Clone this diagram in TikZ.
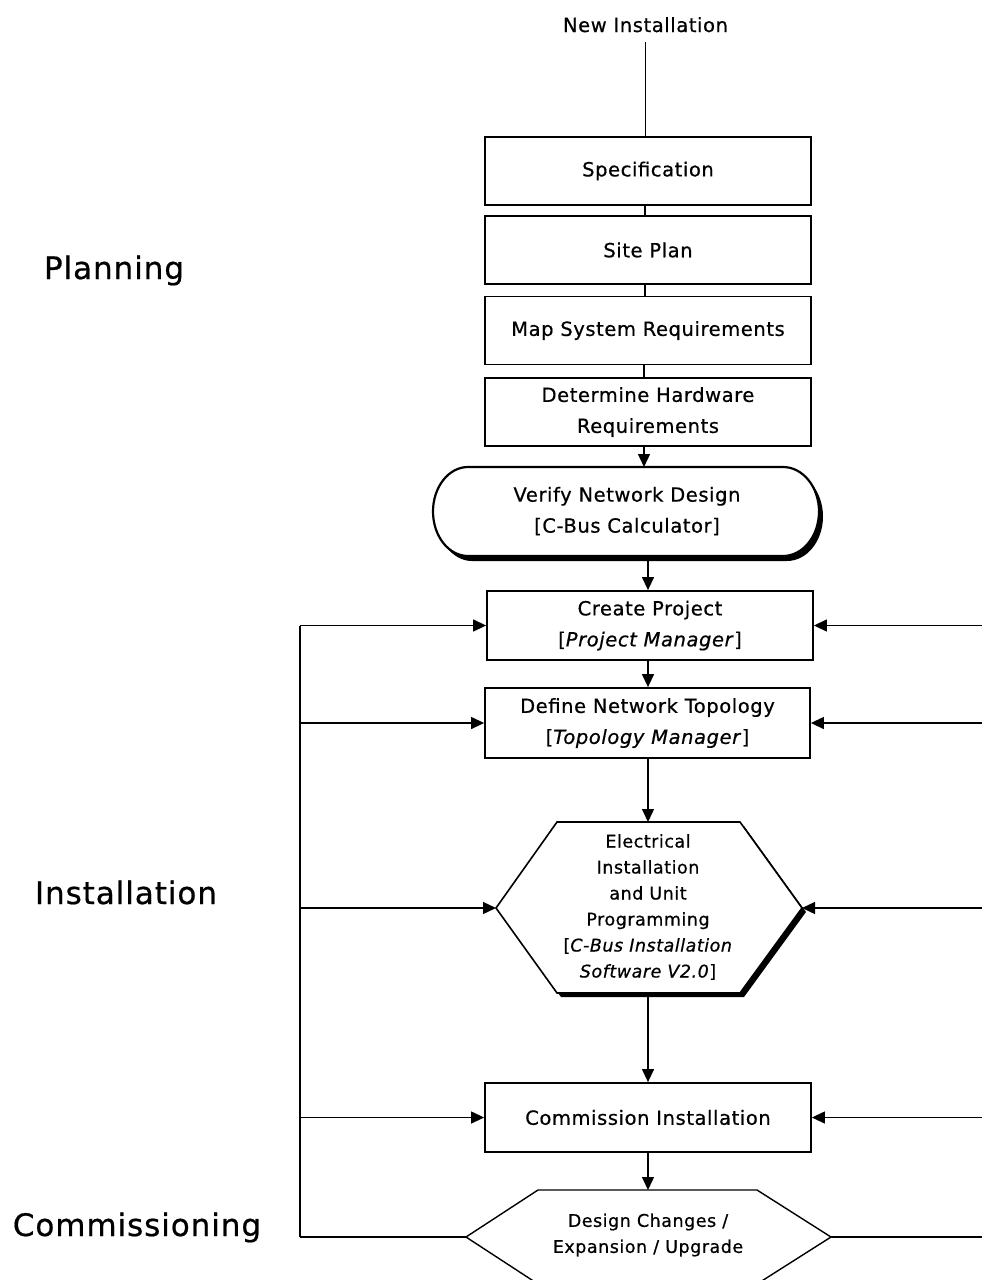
\documentclass[tikz,border=0pt]{standalone}
\usepackage{fontspec}
\setmainfont{DejaVu Sans}
\newfontfamily\boxfont{DejaVu Sans}[LetterSpace=3, FakeBold=0.6]
\newfontfamily\labfont{DejaVu Sans}[LetterSpace=3, FakeBold=0.6]
\usetikzlibrary{arrows.meta}
\begin{document}
\begin{tikzpicture}[x=1pt,y=-1pt,
  every node/.style={inner sep=0pt},
  boxtext/.style={align=center, font=\boxfont\fontsize{19.5}{31}\selectfont},
  box/.style={boxtext, draw, line width=1.8pt, minimum width=326pt, minimum height=68pt},
  hextext/.style={align=center, font=\boxfont\fontsize{17.5}{26}\selectfont},
  phase/.style={anchor=base, font=\labfont\fontsize{31}{34}\selectfont},
  conn/.style={line width=1.3pt},
  arr/.style={line width=1.3pt, -{Triangle[length=13pt,width=12pt]}},
]
\useasboundingbox (0,0) rectangle (982,1280);
\clip (0,0) rectangle (982,1280);

% phase labels
\node[phase] (plan) at (114,279) {Planning};
\node[phase] (inst) at (126,904) {Installation};
\node[phase] (comms) at (137,1236) {Commissioning};

% column coordinates
\coordinate (cA) at (645,0);
\coordinate (cB) at (644,0);
\coordinate (cC) at (648,0);

% top
\node[boxtext, anchor=base] (newinst) at (645.5,32) {New Installation};
\node[box] (spec) at (648,171) {Specification};
\node[box] (site) at (648,250) {Site Plan};
\node[box] (map) at (648,330.5) {Map System Requirements};
\node[box] (det) at (648,412) {Determine Hardware\\Requirements};

% terminator
\coordinate (vT) at (644,467);
\coordinate (vB) at (648,560);
\begin{scope}[shift={(4,5)}]
  \fill (468,467) -- (783,467) arc[start angle=90, end angle=-90, x radius=36pt, y radius=44.5pt]
     -- (468,556) arc[start angle=270, end angle=90, x radius=35pt, y radius=44.5pt] -- cycle;
\end{scope}
\draw[line width=2.2pt, fill=white] (468,467) -- (783,467) arc[start angle=90, end angle=-90, x radius=36pt, y radius=44.5pt]
     -- (468,556) arc[start angle=270, end angle=90, x radius=35pt, y radius=44.5pt] -- cycle;
\node[boxtext] (verify) at (627,511) {Verify Network Design\\{}[C-Bus Calculator]};

\node[box, minimum height=69pt] (create) at (650,625.5) {Create Project\\{}[\textit{Project Manager}]};
\node[box, minimum height=70pt, minimum width=325pt] (define) at (647.5,723) {Define Network Topology\\{}[\textit{Topology Manager}]};

% hexagon 1
\coordinate (h1T) at (648,822);
\coordinate (h1B) at (648,997);
\coordinate (h1L) at (496,908);
\coordinate (h1R) at (802,908);
\begin{scope}[shift={(4,4)}]
  \fill (557,822) -- (740,822) -- (802,908) -- (740,993) -- (557,993) -- (496,908) -- cycle;
\end{scope}
\draw[line width=1.6pt, fill=white, line join=miter] (557,822) -- (740,822) -- (802,908) -- (740,993) -- (557,993) -- (496,908) -- cycle;
\node[hextext] (elec) at (648,907) {Electrical\\Installation\\and Unit\\Programming\\{}[\textit{C-Bus Installation}\\\textit{Software V2.0}]};

\node[box, minimum height=69pt] (comm) at (648,1117.5) {Commission Installation};

% hexagon 2
\coordinate (h2T) at (648,1190);
\coordinate (h2L) at (466,1237);
\coordinate (h2R) at (831,1237);
\draw[line width=1.4pt, fill=white] (538,1190) -- (757,1190) -- (831,1237) -- (757,1284) -- (538,1284) -- (466,1237) -- cycle;
\node[hextext] (design) at (648,1235) {Design Changes /\\Expansion / Upgrade};

% main flow
\draw[conn] ([yshift=-10pt]newinst.south) -- (newinst.south |- spec.north);
\draw[conn] (spec.south -| cA) -- (site.north -| cA);
\draw[conn] (site.south -| cA) -- (map.north -| cA);
\draw[conn] (map.south -| cB) -- (det.north -| cB);
\draw[arr] (det.south -| cB) -- (vT);
\draw[arr] (vB) -- (create.north -| cC);
\draw[arr] (create.south -| cC) -- (define.north -| cC);
\draw[arr] (define.south -| cC) -- (h1T);
\draw[arr] (h1B) -- (comm.north -| cC);
\draw[arr] (comm.south -| cC) -- (h2T);

% left feedback rail
\coordinate (L1) at (300,625.5);
\coordinate (L2) at (300,723);
\coordinate (L3) at (300,908);
\coordinate (L4) at (300,1117.5);
\coordinate (L5) at (300,1237);
\draw[conn] (L5) -- (L1);
\draw[arr] (L1) -- (create.west);
\draw[arr] (L2) -- (define.west);
\draw[arr] (L3) -- (h1L);
\draw[arr] (L4) -- (comm.west);
\draw[conn] (L5) -- (h2L);

% right feedback lines
\coordinate (R1) at (984,625.5);
\coordinate (R2) at (984,723);
\coordinate (R3) at (984,908);
\coordinate (R4) at (984,1117.5);
\coordinate (R5) at (984,1237);
\draw[arr] (R1) -- (create.east);
\draw[arr] (R2) -- (define.east);
\draw[arr] (R3) -- (h1R);
\draw[arr] (R4) -- (comm.east);
\draw[conn] (h2R) -- (R5);
\end{tikzpicture}
\end{document}
